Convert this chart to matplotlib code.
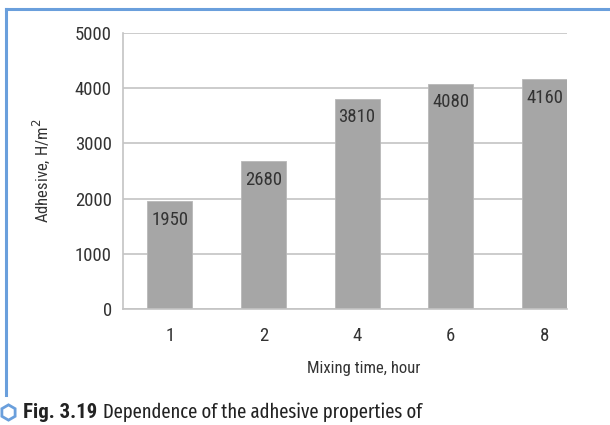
import matplotlib.pyplot as plt
from matplotlib.lines import Line2D

plt.rcParams['font.family'] = ['Roboto Condensed', 'DejaVu Sans']

hours = ['1', '2', '4', '6', '8']
adhesive = [1950, 2680, 3810, 4080, 4160]
yticks = [0, 1000, 2000, 3000, 4000, 5000]

txt = '#333333'
fig = plt.figure(figsize=(6.1, 4.25), dpi=100)
ax = fig.add_axes([0.2016, 0.2729, 0.7279, 0.6495])

x = range(len(hours))
ax.bar(x, adhesive, width=0.48, color='#a6a6a6', edgecolor='#b8b8b8', linewidth=0.6, zorder=2)
for xi, v in zip(x, adhesive):
    ax.annotate(str(v), (xi, v), xytext=(0, -7), textcoords='offset points',
                ha='center', va='top', fontsize=13.5, color=txt, zorder=3)

ax.set_xlim(-0.5, 4.24)
ax.set_ylim(0, 5000)
ax.set_yticks(yticks)
ax.set_xticks(list(x))
ax.set_xticklabels(hours)
ax.yaxis.grid(True, color='#c4c4c4', linewidth=1.2, zorder=0)
ax.tick_params(length=0, labelsize=13.5, colors=txt, pad=8)
ax.tick_params(axis='x', pad=13)
for s in ['top', 'right']:
    ax.spines[s].set_visible(False)
for s in ['left', 'bottom']:
    ax.spines[s].set_color('#c4c4c4')
    ax.spines[s].set_linewidth(1.2)

ax.set_ylabel('Adhesive, H/m$^2$', fontsize=12, color=txt)
ax.yaxis.set_label_coords(-0.16, 0.5)
ax.set_xlabel('Mixing time, hour', fontsize=12, color=txt)
ax.xaxis.set_label_coords(0.543, -0.19)

# blue frame and caption
blue = '#6a9fdc'
fig.add_artist(Line2D([6 / 610, 6 / 610], [1 - 395 / 425, 1 - 9 / 425], color=blue, lw=2.2,
                      transform=fig.transFigure))
fig.add_artist(Line2D([6 / 610, 1], [1 - 9 / 425, 1 - 9 / 425], color=blue, lw=2.2,
                      transform=fig.transFigure))
fig.add_artist(Line2D([8 / 610], [1 - 412 / 425], marker='h', markersize=11,
                      markerfacecolor='white', markeredgecolor=blue, markeredgewidth=2,
                      transform=fig.transFigure))
cap = ['Fira Sans Extra Condensed', 'Roboto Condensed', 'DejaVu Sans']
fig.text(23 / 610, 1 - 412 / 425, 'Fig. 3.19', fontsize=15, fontweight='bold',
         color='#222222', va='center')
fig.text(103 / 610, 1 - 412 / 425, 'Dependence of the adhesive properties of', fontsize=14.5,
         color='#222222', va='center', family=cap)

fig.savefig('out.png', dpi=100)
